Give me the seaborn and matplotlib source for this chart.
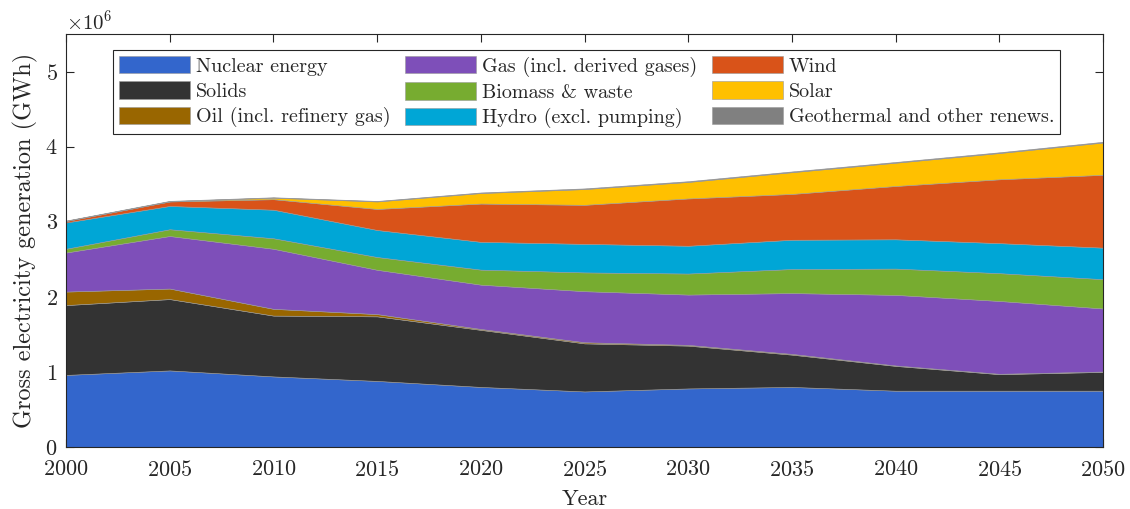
import numpy as np
import pandas as pd
import matplotlib
matplotlib.use("Agg")
import matplotlib.pyplot as plt
from matplotlib.ticker import ScalarFormatter
import seaborn as sns

# Gross electricity generation by source, in millions of GWh
years = [2000, 2005, 2010, 2015, 2020, 2025, 2030, 2035, 2040, 2045, 2050]
nuclear = [0.96, 1.02, 0.94, 0.88, 0.80, 0.74, 0.78, 0.80, 0.75, 0.75, 0.75]
solids = [0.93, 0.95, 0.81, 0.86, 0.76, 0.64, 0.57, 0.43, 0.33, 0.22, 0.25]
oil = [0.18, 0.14, 0.09, 0.03, 0.012, 0.015, 0.01, 0.01, 0.006, 0.005, 0.005]
gas = [0.52, 0.70, 0.80, 0.59, 0.59, 0.68, 0.67, 0.81, 0.94, 0.97, 0.84]
biomass = [0.05, 0.09, 0.14, 0.17, 0.20, 0.25, 0.28, 0.32, 0.35, 0.37, 0.39]
hydro = [0.35, 0.31, 0.38, 0.36, 0.37, 0.38, 0.37, 0.39, 0.39, 0.40, 0.42]
wind = [0.02, 0.06, 0.14, 0.28, 0.51, 0.52, 0.63, 0.61, 0.71, 0.85, 0.97]
solar = [0.001, 0.002, 0.02, 0.10, 0.14, 0.21, 0.22, 0.29, 0.31, 0.35, 0.43]
geothermal = [0.005, 0.006, 0.006, 0.007, 0.008, 0.009, 0.01, 0.01, 0.01, 0.01, 0.01]

sources = [
    "Nuclear energy", "Solids", "Oil (incl. refinery gas)",
    "Gas (incl. derived gases)", "Biomass & waste", "Hydro (excl. pumping)",
    "Wind", "Solar", "Geothermal and other renews.",
]
series = [nuclear, solids, oil, gas, biomass, hydro, wind, solar, geothermal]
colors = ["#3366CC", "#333333", "#996600", "#7E4FB9", "#77AC30",
          "#00A6D6", "#D95319", "#FFC000", "#808080"]

SCALE = 1e6
df = pd.DataFrame({name: np.array(vals) * SCALE for name, vals in zip(sources, series)},
                  index=years)

sns.set_theme(style="white")
plt.rcParams["font.family"] = ["cmr10", "DejaVu Serif"]
plt.rcParams["mathtext.fontset"] = "cm"
plt.rcParams["axes.formatter.use_mathtext"] = True

ink = "#262626"
fig = plt.figure(figsize=(11.3, 5.09), dpi=100)
ax = fig.add_axes([66 / 1130, 1 - 447 / 509, (1103 - 66) / 1130, (447 - 34) / 509])

palette = sns.color_palette(colors)
ax.stackplot(df.index, *[df[c] for c in sources], labels=sources,
             colors=palette, edgecolor="#9a9a9a", linewidth=0.4)

ax.set_xlim(2000, 2050)
ax.set_ylim(0, 5.5e6)
ax.set_xticks(years)
ax.set_yticks(np.arange(0, 6) * SCALE)

fmt = ScalarFormatter(useMathText=True)
fmt.set_powerlimits((0, 0))
ax.yaxis.set_major_formatter(fmt)
ax.yaxis.get_offset_text().set_fontsize(15)
ax.yaxis.get_offset_text().set_color(ink)

ax.tick_params(axis="both", which="major", direction="in", length=6, width=0.8,
               labelsize=16, colors=ink, top=True, right=True,
               bottom=True, left=True)
ax.tick_params(axis="x", pad=9)
ax.tick_params(axis="y", pad=6)
for s in ax.spines.values():
    s.set_color(ink)
    s.set_linewidth(0.8)
    s.set_visible(True)

ax.set_xlabel("Year", fontsize=16, color=ink, labelpad=7)
ax.set_ylabel("Gross electricity generation (GWh)", fontsize=17.5, color=ink, labelpad=5)

handles, labels = ax.get_legend_handles_labels()
leg = ax.legend(handles, labels, loc="upper left", ncol=3,
                bbox_to_anchor=(113 / 1130, 1 - 50 / 509), bbox_transform=fig.transFigure,
                fontsize=14.5, frameon=True, fancybox=False, framealpha=1,
                edgecolor=ink, handlelength=3.5, handleheight=0.95,
                handletextpad=0.3, columnspacing=0.75, labelspacing=0.28,
                borderpad=0.3, borderaxespad=0)
leg.get_frame().set_linewidth(0.8)
for t in leg.get_texts():
    t.set_color(ink)

fig.savefig("out.png", dpi=100)
